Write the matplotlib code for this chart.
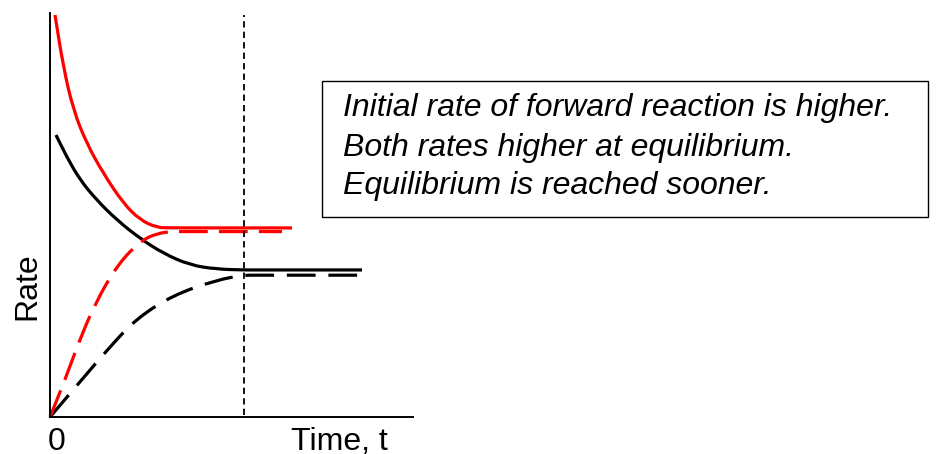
import matplotlib
matplotlib.use("Agg")
import matplotlib.pyplot as plt
from matplotlib.patches import PathPatch, Rectangle
from matplotlib.path import Path

FONT = "Liberation Sans"
FS = 23

# curves (time, rate)
fwd_t = [0.138, 0.366, 0.642, 1.011, 1.468, 2.019, 2.479, 2.939, 3.306, 6.667]
fwd_r = [9.95, 8.67, 7.60, 6.77, 6.03, 5.29, 4.88, 4.69, 4.68, 4.68]

rev_t = [0.0, 0.413, 0.780, 1.240, 1.882, 2.526, 2.984, 3.352, 3.7, 6.391]
rev_r = [0.0, 0.92, 1.82, 2.81, 3.80, 4.38, 4.55, 4.59, 4.59, 4.59]

old_fwd_t = [0.165, 0.460, 0.826, 1.286, 1.837, 2.479, 3.121, 3.857, 4.592, 5.325, 5.6, 8.595]
old_fwd_r = [6.98, 6.44, 5.87, 5.37, 4.88, 4.42, 4.05, 3.76, 3.66, 3.64, 3.64, 3.64]

old_rev_t = [0.0, 0.826, 1.653, 2.388, 3.397, 4.592, 5.325, 5.7, 8.595]
old_rev_r = [0.0, 0.87, 1.74, 2.44, 3.02, 3.39, 3.51, 3.51, 3.51]

eq_time = 5.34

notes = [
    "Initial rate of forward reaction is higher.",
    "Both rates higher at equilibrium.",
    "Equilibrium is reached sooner.",
]


def smooth(xs, ys):
    # quadratic b-spline through the read points, drawn by matplotlib's path code
    pts = list(zip(xs, ys))
    mid = lambda a, b: ((a[0] + b[0]) / 2, (a[1] + b[1]) / 2)
    verts = [pts[0], mid(pts[0], pts[1])]
    codes = [Path.MOVETO, Path.LINETO]
    for i in range(1, len(pts) - 1):
        verts += [pts[i], mid(pts[i], pts[i + 1])]
        codes += [Path.CURVE3, Path.CURVE3]
    verts.append(pts[-1])
    codes.append(Path.LINETO)
    return Path(verts, codes)


def curve(ax, xs, ys, color, ls="solid"):
    patch = PathPatch(smooth(xs, ys), fill=False, edgecolor=color, lw=2.3,
                      linestyle=ls, capstyle="butt", clip_on=False)
    ax.add_patch(patch)


def main() -> None:
    fig = plt.figure(figsize=(9.36, 4.54), dpi=100)
    ax = fig.add_axes([50 / 936, 37 / 454, 363 / 936, 404 / 454])
    ax.set_xlim(0, 10)
    ax.set_ylim(0, 10)

    for side in ("top", "right"):
        ax.spines[side].set_visible(False)
    for side in ("left", "bottom"):
        ax.spines[side].set_linewidth(1.4)
    ax.set_xticks([])
    ax.set_yticks([])

    curve(ax, old_fwd_t, old_fwd_r, "black")
    curve(ax, old_rev_t, old_rev_r, "black", (0, (9, 4)))
    curve(ax, fwd_t, fwd_r, "red")
    curve(ax, rev_t, rev_r, "red", (0, (9, 3.5)))
    ax.plot([eq_time, eq_time], [0.05, 9.95], color="black", lw=1.3, dashes=(3.5, 2.3))

    fig.text(57 / 936, 1 - 450 / 454, "0", fontsize=FS, family=FONT,
             ha="center", va="baseline")
    fig.text(291 / 936, 1 - 450 / 454, "Time, t", fontsize=FS, family=FONT,
             ha="left", va="baseline")
    fig.text(35 / 936, 1 - 286 / 454, "Rate", fontsize=FS, family=FONT,
             rotation=90, ha="center", va="baseline", rotation_mode="anchor")

    fig.patches.append(Rectangle((322 / 936, 1 - 217 / 454), 606 / 936, 136 / 454,
                                 transform=fig.transFigure, fill=False,
                                 edgecolor="black", lw=1.0))
    for line, base in zip(notes, [116, 156, 194]):
        fig.text(343 / 936, 1 - base / 454, line, fontsize=FS, family=FONT,
                 style="italic", va="baseline", ha="left")

    fig.savefig("out.png", dpi=100)


if __name__ == "__main__":
    main()
